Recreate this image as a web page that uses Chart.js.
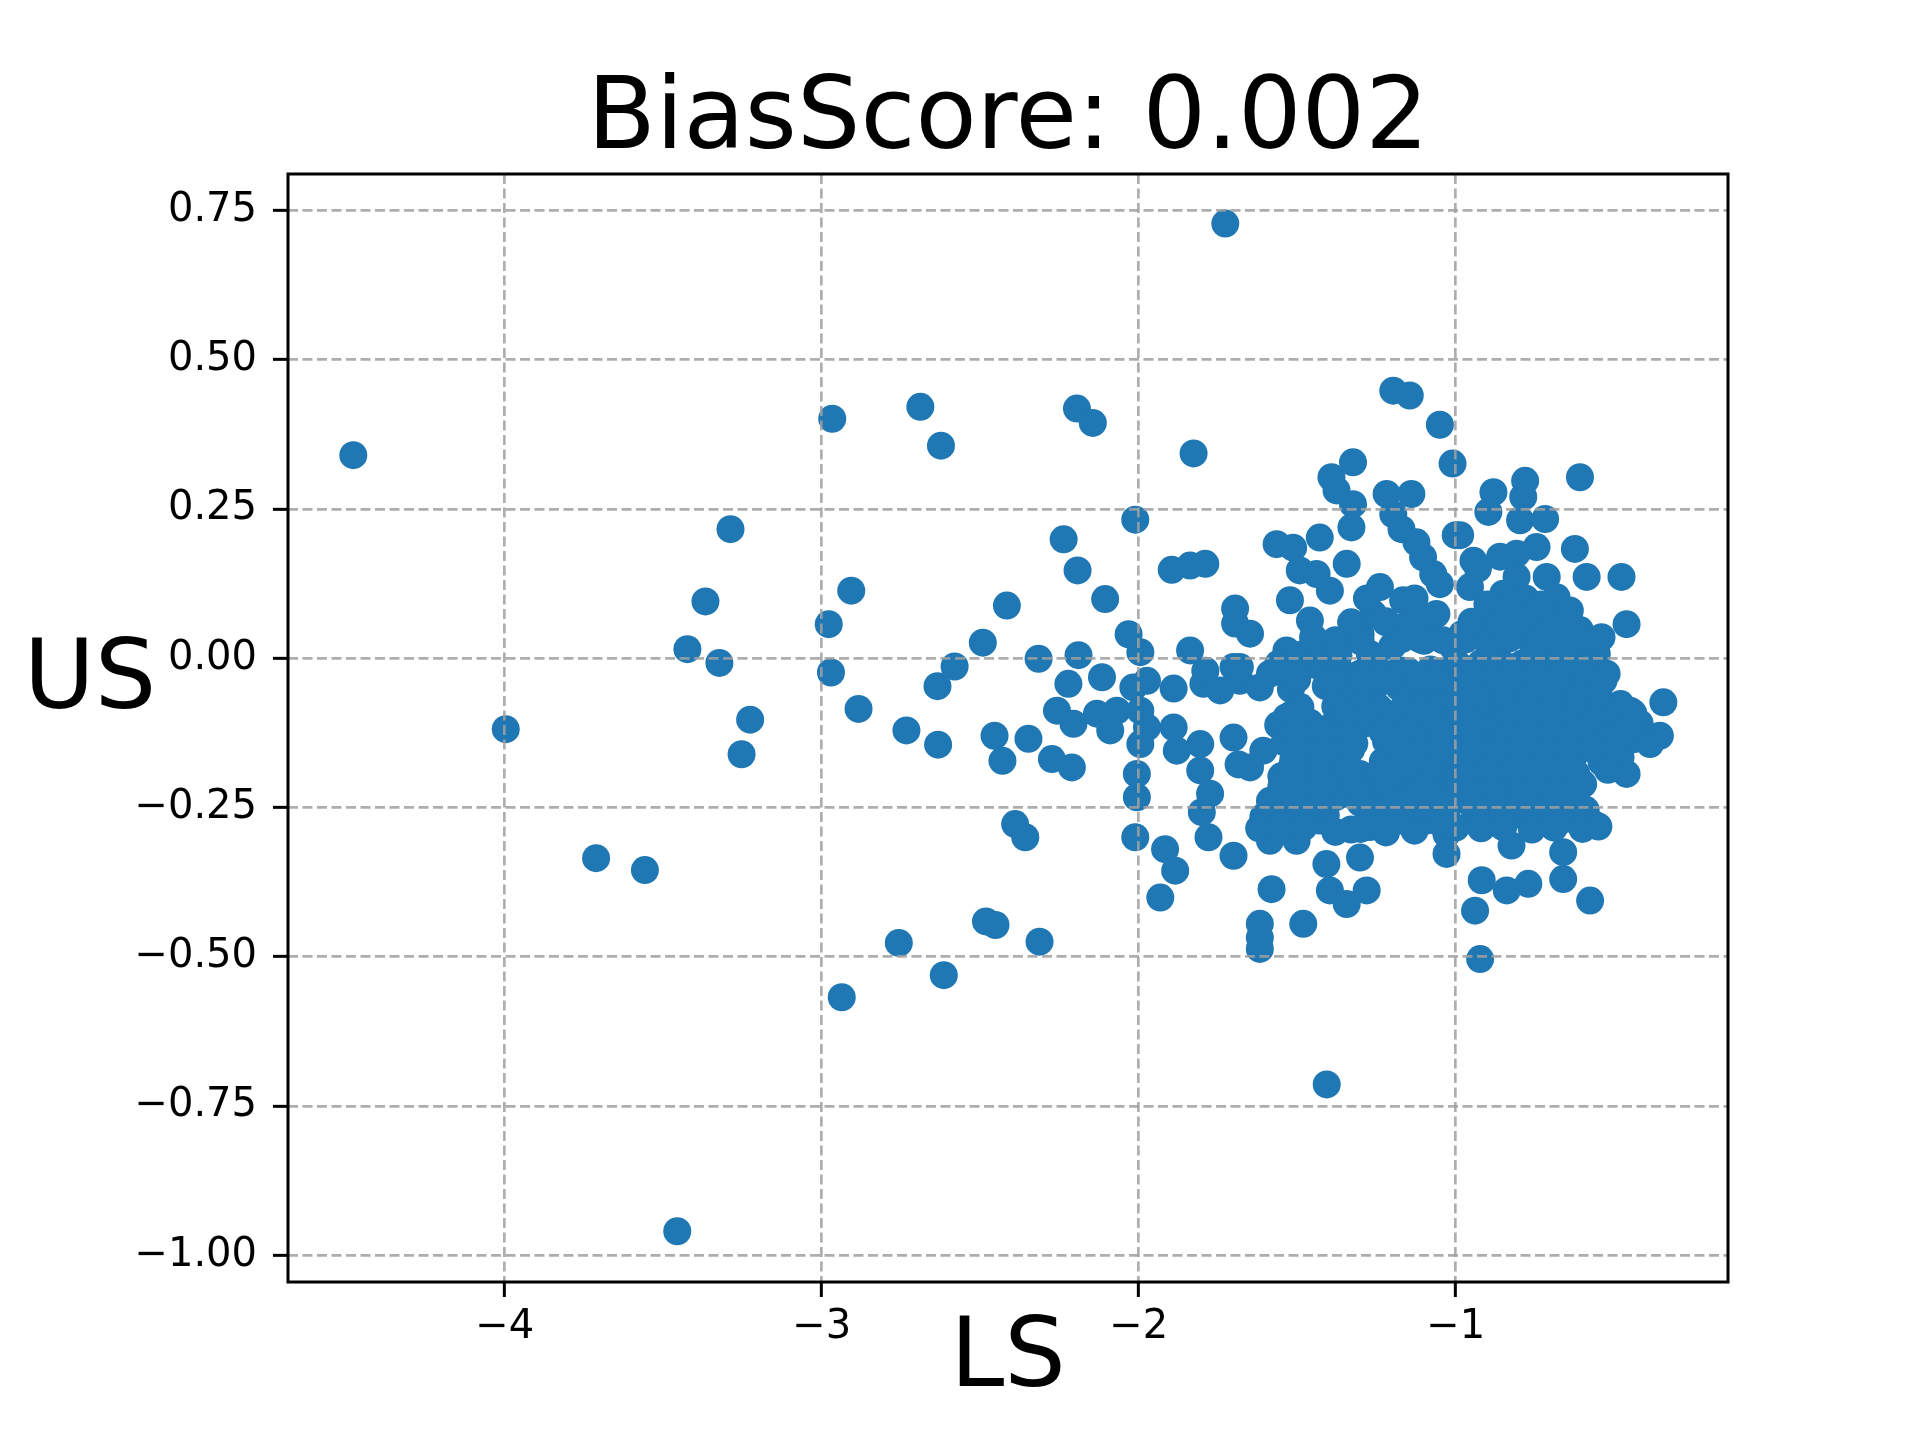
<!DOCTYPE html>
<html>
<head>
<meta charset="utf-8">
<title>BiasScore scatter</title>
<script src="https://cdn.jsdelivr.net/npm/chart.js@4.4.1/dist/chart.umd.min.js"></script>
<style>
  html, body { margin: 0; padding: 0; background: #ffffff; }
  canvas { display: block; }
</style>
</head>
<body>
<canvas id="biasChart" width="1920" height="1440"></canvas>
<script>
// LS (x) and US (y) score of each point
const lsScores = [
  -4.478, -3.997, -3.712, -3.558, -3.456, -3.424, -3.367, -3.323, -3.288, -3.253,
  -3.226, -2.967, -2.978, -2.971, -2.937, -2.907, -2.884, -2.757, -2.733, -2.689,
  -2.624, -2.635, -2.633, -2.615, -2.581, -2.492, -2.482, -2.452, -2.455, -2.430,
  -2.416, -2.348, -2.390, -2.358, -2.316, -2.313, -2.274, -2.258, -2.237, -2.222,
  -2.211, -2.206, -2.195, -2.193, -2.190, -2.145, -2.132, -2.116, -2.106, -2.090,
  -2.069, -2.032, -2.017, -2.011, -2.011, -2.006, -2.006, -1.995, -1.995, -1.995,
  -1.974, -1.974, -1.932, -1.917, -1.896, -1.890, -1.890, -1.885, -1.880, -1.838,
  -1.838, -1.827, -1.806, -1.806, -1.801, -1.796, -1.790, -1.790, -1.780, -1.775,
  -1.743, -1.727, -1.701, -1.701, -1.701, -1.696, -1.696, -1.685, -1.681, -1.649,
  -1.618, -1.607, -1.586, -1.607, -1.586, -1.581, -1.618, -1.618, -1.618, -1.534,
  -1.513, -1.502, -1.481, -1.481, -1.450, -1.429, -1.408, -1.397, -1.397, -1.376,
  -1.344, -1.344, -1.344, -1.302, -1.302, -1.302, -1.281, -1.271, -1.239, -1.218,
  -1.197, -1.166, -1.166, -1.155, -1.134, -1.113, -1.092, -1.071, -1.061, -1.029,
  -1.029, -1.008, -1.008, -1.008, -1.407, -1.42, -1.36, -1.25, -1.15, -1.08,
  -1.03, -1.52, -1.41, -1.33, -1.26, -1.18, -1.05, -1.49, -1.30, -1.24,
  -1.38, -1.16, -1.10, -1.04, -1.56, -1.46, -1.39, -1.28, -1.20, -1.12,
  -1.06, -1.54, -1.39, -1.32, -1.22, -1.16, -1.09, -1.46, -1.35, -1.23,
  -1.14, -1.03, -1.55, -1.48, -1.40, -1.25, -1.19, -1.11, -1.04, -1.52,
  -1.46, -1.38, -1.28, -1.20, -1.13, -1.05, -1.53, -1.47, -1.41, -1.24,
  -1.03, -1.38, -1.33, -1.22, -1.13, -0.345, -0.356, -0.461, -0.387, -0.450,
  -0.534, -0.598, -0.566, -0.661, -0.661, -0.576, -0.771, -0.839, -0.918, -0.939,
  -0.923, -0.824, -0.902, -0.703, -0.99, -0.92, -0.85, -0.79, -0.72, -0.66,
  -0.60, -0.99, -0.91, -0.83, -0.77, -0.69, -0.62, -0.56, -0.96, -0.88,
  -0.80, -0.74, -0.66, -0.59, -0.53, -0.48, -0.99, -0.93, -0.86, -0.78,
  -0.71, -0.64, -0.55, -0.49, -0.42, -0.95, -0.88, -0.81, -0.73, -0.67,
  -0.60, -0.53, -0.44, -0.98, -0.91, -0.84, -0.77, -0.69, -0.63, -0.54,
  -0.48, -0.99, -0.93, -0.86, -0.78, -0.72, -0.66, -0.97, -0.89, -0.82,
  -0.75, -0.68, -0.62, -0.94, -0.86, -0.78, -0.65, -0.608, -0.781, -0.881,
  -0.787, -0.897, -0.797, -0.718, -0.986, -0.624, -0.587, -0.477, -0.461, -0.745,
  -0.808, -0.944, -0.955, -0.808, -0.713, -0.682, -0.850, -0.745, -0.608, -0.913,
  -0.860, -0.755, -0.650, -0.555, -0.524, -0.955, -0.829, -0.90, -0.78, -0.70,
  -0.64, -0.57, -0.98, -0.88, -0.70, -0.62, -0.80, -0.68, -0.93, -0.86,
  -1.197, -1.145, -1.050, -1.010, -1.324, -1.392, -1.376, -1.324, -1.329, -1.218,
  -1.140, -1.197, -1.171, -1.124, -1.103, -1.071, -1.050, -1.000, -1.565, -1.513,
  -1.429, -1.344, -1.492, -1.439, -1.397, -1.239, -1.166, -1.260, -1.523, -1.460,
  -1.649, -1.061, -1.166, -1.344, -1.113, -1.534, -1.481, -1.271, -1.008, -1.681,
  -1.586, -1.376, -1.166, -1.22, -1.28, -1.20, -1.42, -1.30, -1.09, -1.04,
  -1.13, -1.56, -1.26,
  // dense core, left half
  -1.50, -1.39, -1.29, -1.21, -1.12, -1.06,
  -1.52, -1.35, -1.27, -1.19, -1.13, -1.07,
  -1.50, -1.42, -1.34, -1.23, -1.15, -1.04,
  -1.50, -1.41, -1.33, -1.18, -1.11, -1.05,
  -1.52, -1.43, -1.34, -1.22, -1.17, -1.08,
  -1.55, -1.49, -1.42, -1.32, -1.22, -1.09,
  -1.50, -1.43, -1.30, -1.20, -1.09,
  -1.50, -1.26, -1.19, -1.05,
  -1.62, -1.55, -1.48, -1.30, -1.00,
  // dense core, right half
  -0.96, -0.88, -0.81, -0.74, -0.67, -0.58,
  -0.94, -0.85, -0.77, -0.70, -0.62, -0.55,
  -0.98, -0.83, -0.76, -0.69, -0.62, -0.56, -0.50, -0.44,
  -0.97, -0.84, -0.76, -0.69, -0.61, -0.51, -0.46,
  -0.94, -0.86, -0.79, -0.71, -0.65, -0.57, -0.50,
  -0.96, -0.89, -0.81, -0.74, -0.68, -0.62, -0.52,
  -0.95, -0.88, -0.80, -0.74, -0.69, -0.63,
  -0.93, -0.85, -0.79, -0.71, -0.59,
  -0.92, -0.85, -0.76, -0.69, -0.60, -0.55,
  // just above zero
  -1.38, -1.30, -1.17, -1.10, -0.97, -0.90, -0.83, -0.75, -0.68, -0.60,
  -1.33, -1.22, -1.14, -0.95, -0.86, -0.79, -0.70, -0.64,
  -0.82, -0.73, -0.54, -1.45, -1.37
];
const usScores = [
  0.340, -0.119, -0.335, -0.355, -0.960, 0.015, 0.095, -0.008, 0.216, -0.161,
  -0.103, 0.401, 0.057, -0.024, -0.568, 0.113, -0.085, -0.477, -0.121, 0.421,
  0.356, -0.047, -0.145, -0.531, -0.014, 0.026, -0.441, -0.447, -0.130, -0.172,
  0.088, -0.135, -0.278, -0.300, -0.001, -0.475, -0.169, -0.088, 0.199, -0.043,
  -0.183, -0.110, 0.418, 0.147, 0.005, 0.394, -0.093, -0.032, 0.099, -0.121,
  -0.088, 0.040, -0.049, 0.232, -0.300, -0.194, -0.233, 0.010, -0.088, -0.144,
  -0.038, -0.116, -0.401, -0.320, 0.148, -0.051, -0.116, -0.356, -0.155, 0.155,
  0.013, 0.343, -0.144, -0.188, -0.258, -0.043, 0.158, -0.021, -0.300, -0.227,
  -0.054, 0.728, -0.133, -0.015, -0.331, 0.083, 0.058, -0.178, -0.038, -0.183,
  -0.049, -0.155, -0.239, -0.266, -0.306, -0.387, -0.445, -0.468, -0.487, -0.099,
  -0.172, -0.306, -0.015, -0.445, -0.144, -0.272, -0.345, -0.188, -0.389, -0.060,
  -0.127, -0.227, -0.412, -0.026, -0.194, -0.334, -0.389, -0.283, -0.216, -0.116,
  -0.026, -0.255, -0.272, -0.205, -0.144, -0.060, -0.272, -0.216, -0.172, -0.295,
  -0.328, -0.088, -0.144, -0.239, -0.714, -0.018, -0.024, -0.016, -0.022, -0.019,
  -0.021, -0.052, -0.047, -0.051, -0.054, -0.048, -0.053, -0.082, -0.079, -0.084,
  -0.081, -0.077, -0.083, -0.080, -0.112, -0.108, -0.113, -0.109, -0.111, -0.107,
  -0.114, -0.141, -0.138, -0.143, -0.139, -0.142, -0.137, -0.171, -0.168, -0.173,
  -0.169, -0.174, -0.198, -0.203, -0.201, -0.199, -0.204, -0.197, -0.202, -0.231,
  -0.228, -0.233, -0.229, -0.232, -0.227, -0.234, -0.261, -0.258, -0.263, -0.259,
  -0.262, -0.291, -0.287, -0.292, -0.289, -0.074, -0.130, -0.194, -0.144, -0.088,
  -0.038, -0.211, -0.278, -0.325, -0.370, -0.406, -0.378, -0.389, -0.372, -0.423,
  -0.504, -0.314, -0.278, -0.272, -0.012, -0.008, -0.013, -0.009, -0.011, -0.014,
  -0.010, -0.047, -0.052, -0.049, -0.046, -0.051, -0.048, -0.053, -0.081, -0.079,
  -0.083, -0.078, -0.082, -0.080, -0.084, -0.077, -0.109, -0.112, -0.108, -0.111,
  -0.113, -0.107, -0.110, -0.114, -0.109, -0.139, -0.142, -0.138, -0.141, -0.143,
  -0.137, -0.140, -0.136, -0.171, -0.168, -0.173, -0.169, -0.172, -0.167, -0.174,
  -0.166, -0.208, -0.212, -0.207, -0.211, -0.209, -0.213, -0.238, -0.242, -0.239,
  -0.241, -0.237, -0.243, -0.268, -0.271, -0.266, -0.269, 0.303, 0.297, 0.278,
  0.270, 0.245, 0.231, 0.233, 0.206, 0.183, 0.136, 0.136, 0.057, 0.186,
  0.175, 0.163, 0.119, 0.136, 0.136, 0.102, 0.108, 0.069, 0.047, 0.052,
  0.024, 0.013, 0.013, 0.007, -0.026, -0.021, -0.015, 0.090, 0.100, 0.060,
  0.080, 0.030, 0.040, -0.010, -0.020, -0.020, 0.040, 0.030, 0.150, 0.170,
  0.448, 0.440, 0.391, 0.326, 0.328, 0.303, 0.281, 0.258, 0.219, 0.275,
  0.275, 0.241, 0.216, 0.194, 0.169, 0.141, 0.124, 0.206, 0.191, 0.185,
  0.202, 0.158, 0.147, 0.141, 0.113, 0.119, 0.097, 0.074, 0.097, 0.063,
  0.041, 0.074, 0.052, 0.032, 0.032, 0.013, 0.007, 0.007, 0.018, -0.015,
  -0.026, -0.026, -0.021, 0.060, 0.100, 0.020, 0.020, 0.040, 0.060, 0.030,
  0.100, -0.010, -0.020,
  // dense core, left half
  -0.035, -0.038, -0.033, -0.036, -0.034, -0.037,
  -0.095, -0.097, -0.093, -0.096, -0.094, -0.098,
  -0.125, -0.123, -0.127, -0.124, -0.126, -0.122,
  -0.155, -0.158, -0.153, -0.156, -0.154, -0.157,
  -0.185, -0.183, -0.188, -0.186, -0.184, -0.187,
  -0.215, -0.217, -0.213, -0.216, -0.214, -0.218,
  -0.245, -0.247, -0.243, -0.246, -0.244,
  -0.275, -0.277, -0.273, -0.276,
  -0.285, -0.287, -0.283, -0.286, -0.284,
  // dense core, right half
  -0.030, -0.032, -0.028, -0.031, -0.029, -0.033,
  -0.065, -0.063, -0.067, -0.064, -0.066, -0.062,
  -0.095, -0.097, -0.093, -0.096, -0.094, -0.098, -0.095, -0.092,
  -0.125, -0.127, -0.123, -0.126, -0.124, -0.128, -0.122,
  -0.155, -0.153, -0.157, -0.154, -0.156, -0.152, -0.158,
  -0.190, -0.192, -0.188, -0.191, -0.189, -0.193, -0.187,
  -0.225, -0.223, -0.227, -0.224, -0.226, -0.222,
  -0.255, -0.257, -0.253, -0.256, -0.254,
  -0.285, -0.283, -0.287, -0.284, -0.286, -0.282,
  // just above zero
  0.030, 0.028, 0.032, 0.029, 0.031, 0.027, 0.033, 0.030, 0.028, 0.031,
  0.060, 0.062, 0.058, 0.061, 0.059, 0.063, 0.057, 0.060,
  0.085, 0.090, 0.035, 0.035, 0.005
];

const xTicks = [-4, -3, -2, -1];
const yTicks = [-1.0, -0.75, -0.5, -0.25, 0, 0.25, 0.5, 0.75];
const chartTitle = "BiasScore: 0.002";
const xLabel = "LS";
const yLabel = "US";

const FONT = "'DejaVu Sans', sans-serif";
const GRID = "rgba(160,160,160,0.85)";

// matplotlib style tick text: real minus sign
function fmt(v, digits) {
  return v.toFixed(digits).replace("-", "\u2212");
}

// box around the plot area (all four spines)
const framePlugin = {
  id: "frame",
  afterDraw(chart) {
    const { ctx, chartArea: a } = chart;
    ctx.save();
    ctx.strokeStyle = "#000";
    ctx.lineWidth = 3;
    ctx.strokeRect(a.left, a.top, a.right - a.left, a.bottom - a.top);
    ctx.restore();
  }
};

// y label is horizontal in the reference, chart.js would rotate it
const yLabelPlugin = {
  id: "yLabel",
  afterDraw(chart) {
    const ctx = chart.ctx;
    ctx.save();
    ctx.fillStyle = "#000";
    ctx.font = "97px " + FONT;
    ctx.textAlign = "center";
    ctx.textBaseline = "alphabetic";
    ctx.fillText(yLabel, 90, 708);
    ctx.restore();
  }
};

const points = lsScores.map((x, i) => ({ x: x, y: usScores[i] }));

const ctx = document.getElementById("biasChart").getContext("2d");
new Chart(ctx, {
  type: "scatter",
  data: {
    datasets: [{
      data: points,
      backgroundColor: "#1f77b4",
      borderWidth: 0,
      pointRadius: 14,
      pointHoverRadius: 14
    }]
  },
  options: {
    responsive: false,
    animation: false,
    events: [],
    layout: { padding: { left: 0, right: 192, top: 0, bottom: 23 } },
    plugins: {
      legend: { display: false },
      tooltip: { enabled: false },
      title: {
        display: true,
        text: chartTitle,
        fullSize: false,
        color: "#000",
        font: { family: FONT, size: 100, weight: "normal", lineHeight: 1 },
        padding: { top: 72, bottom: 2 }
      }
    },
    scales: {
      x: {
        type: "linear",
        position: "bottom",
        min: -4.684,
        max: -0.141,
        afterBuildTicks: s => { s.ticks = xTicks.map(v => ({ value: v })); },
        afterFit: s => { s.height = 135; },
        ticks: {
          callback: v => fmt(v, 0),
          color: "#000",
          font: { family: FONT, size: 40 },
          padding: 7,
          maxRotation: 0,
          autoSkip: false
        },
        grid: {
          color: GRID,
          lineWidth: 2.7,
          z: 1,
          tickLength: 15,
          tickWidth: 3,
          tickColor: "#000",
          tickBorderDash: []
        },
        border: { display: false, dash: [10, 4.5] },
        title: {
          display: true,
          text: xLabel,
          color: "#000",
          font: { family: FONT, size: 97, lineHeight: 1 },
          padding: { top: 0, bottom: 7.5 }
        }
      },
      y: {
        type: "linear",
        min: -1.045,
        max: 0.811,
        afterBuildTicks: s => { s.ticks = yTicks.map(v => ({ value: v })); },
        afterFit: s => { s.width = 288; },
        ticks: {
          callback: v => fmt(v, 2),
          color: "#000",
          font: { family: FONT, size: 40 },
          padding: 16,
          autoSkip: false
        },
        grid: {
          color: GRID,
          lineWidth: 2.7,
          z: 1,
          tickLength: 15,
          tickWidth: 3,
          tickColor: "#000",
          tickBorderDash: []
        },
        border: { display: false, dash: [10, 4.5] }
      }
    }
  },
  plugins: [framePlugin, yLabelPlugin]
});
</script>
</body>
</html>
